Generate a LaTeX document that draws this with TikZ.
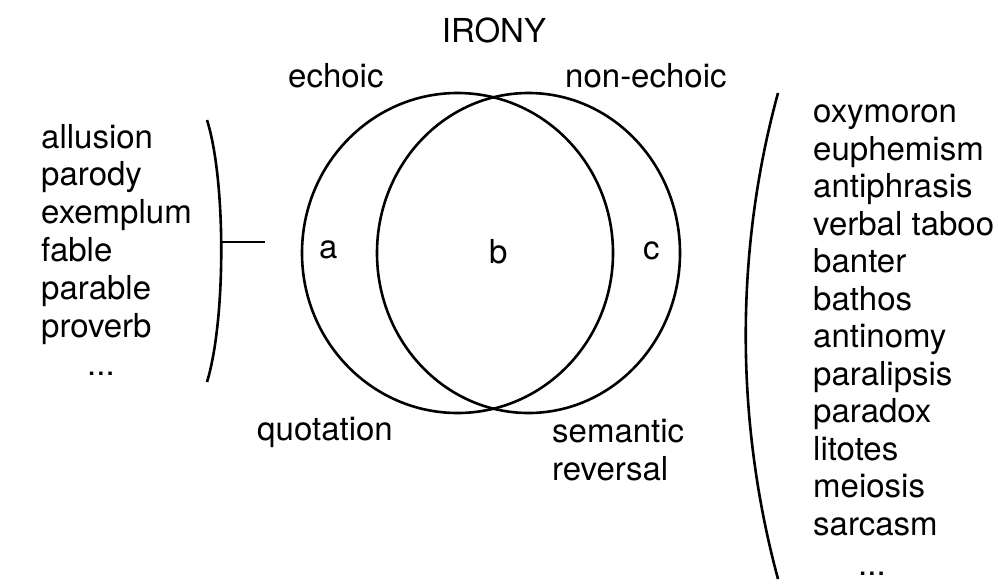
\documentclass[tikz,border=0pt]{standalone}
\usepackage{fontspec}
\setmainfont{TeX Gyre Heros}
\usetikzlibrary{shapes.geometric}
\begin{document}
\begin{tikzpicture}[x=1pt,y=-1pt,
  txt/.style={anchor=base west,inner sep=0pt,font=\fontsize{33}{37.5}\selectfont},
  ring/.style={draw,ellipse,inner sep=0pt,line width=2.6pt},
  brace/.style={line width=2.6pt}]
\useasboundingbox (0,0) rectangle (998,584);
% circles
\node[ring,minimum width=311pt,minimum height=320pt] (echo) at (457.5,253) {};
\node[ring,minimum width=303pt,minimum height=320pt] (nonecho) at (528.5,253) {};
% title and labels
\node[txt,anchor=base] (irony) at (494,42) {IRONY};
\node[txt] (lecho) at (288,87) {echoic};
\node[txt] (lnon) at (565,87) {non-echoic};
\node[txt] (lquot) at (257,440) {quotation};
\node[txt] (lsem) at (552,442) {semantic};
\node[txt] (lrev) at (552,480) {reversal};
\node[txt] (ra) at (319,258) {a};
\node[txt] (rb) at (489,263) {b};
\node[txt] (rc) at (643,259) {c};
% left list
\foreach \w [count=\i from 0] in {allusion,parody,exemplum,fable,parable,proverb}
  \node[txt] (left\i) at (41,148+\i*37.8) {\w};
\node[txt] (leftdots) at (87,375) {...};
% right list
\foreach \w [count=\i from 0] in {oxymoron,euphemism,antiphrasis,verbal taboo,banter,bathos,antinomy,paralipsis,paradox,litotes,meiosis,sarcasm}
  \node[txt] (right\i) at (813,122.5+\i*37.5) {\w};
\node[txt] (rightdots) at (858,575) {...};
% left bracket
\coordinate (lbtop) at (207,120);
\coordinate (lbbot) at (207,382);
\coordinate (lbmid) at (221,242);
\coordinate (tickend) at (265,242);
\draw[brace] (lbtop) .. controls (226,180) and (226,320) .. (lbbot);
\draw[brace] (lbmid) -- (tickend);
% right bracket
\coordinate (rbtop) at (778,93);
\coordinate (rbbot) at (778,579);
\draw[brace] (rbtop) .. controls (735,250) and (735,420) .. (rbbot);
\end{tikzpicture}
\end{document}
